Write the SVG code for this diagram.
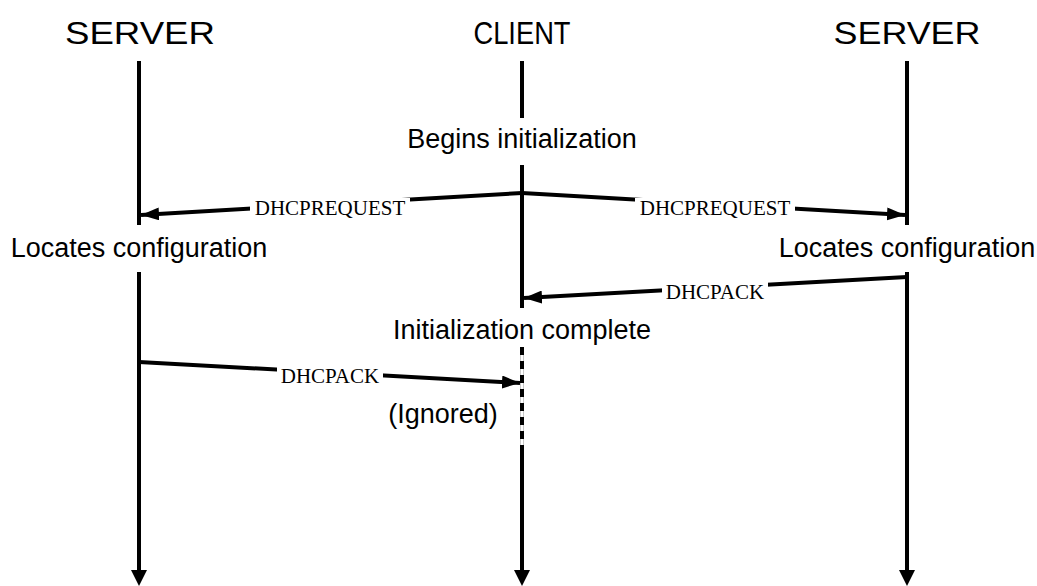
<svg xmlns="http://www.w3.org/2000/svg" width="1037" height="586" viewBox="0 0 1037 586">
<style>
.t{font-family:"Liberation Sans",Arial,sans-serif;fill:#000;text-anchor:middle}
.h{font-size:31px}
.n{font-size:27px}
.m{font-family:"Liberation Serif","Times New Roman",serif;font-size:21px;text-anchor:middle;fill:#000}
.ln{stroke:#000;stroke-width:4;fill:none}
.lb{fill:#fff}
</style>
<defs>
<marker id="ah" markerWidth="18" markerHeight="13" refX="18" refY="6.5" orient="auto" markerUnits="userSpaceOnUse">
<path d="M0,0 L18,6.5 L0,13 Z" fill="#000"/>
</marker>
</defs>
<rect width="1037" height="586" fill="#fff"/>
<g id="server-left">
<text class="t h" x="140" y="44" textLength="150" lengthAdjust="spacingAndGlyphs">SERVER</text>
<line class="ln" x1="139" y1="61" x2="139" y2="225"/>
<text class="t n" x="139" y="257">Locates configuration</text>
<line class="ln" x1="139" y1="272" x2="139" y2="572"/>
<polygon points="131,570 147,570 139,586" fill="#000"/>
</g>
<g id="client">
<text class="t h" x="522" y="44" textLength="97" lengthAdjust="spacingAndGlyphs">CLIENT</text>
<line class="ln" x1="522" y1="61" x2="522" y2="118"/>
<text class="t n" x="522" y="148">Begins initialization</text>
<line class="ln" x1="522" y1="165" x2="522" y2="308"/>
<text class="t n" x="522" y="339">Initialization complete</text>
<line x1="522" y1="347" x2="522" y2="446" stroke="#c8c8c8" stroke-width="4"/>
<line x1="522" y1="347" x2="522" y2="446" stroke="#fff" stroke-width="2"/>
<line x1="522" y1="347" x2="522" y2="446" stroke="#000" stroke-width="4" stroke-dasharray="8 6"/>
<text class="t n" x="443" y="423">(Ignored)</text>
<line class="ln" x1="522" y1="446" x2="522" y2="572"/>
<polygon points="514,570 530,570 522,586" fill="#000"/>
</g>
<g id="server-right">
<text class="t h" x="907" y="44" textLength="147" lengthAdjust="spacingAndGlyphs">SERVER</text>
<line class="ln" x1="907" y1="61" x2="907" y2="225"/>
<text class="t n" x="907" y="257">Locates configuration</text>
<line class="ln" x1="907" y1="272" x2="907" y2="572"/>
<polygon points="899,570 915,570 907,586" fill="#000"/>
</g>
<g id="connectors">
<line class="ln" x1="522" y1="193" x2="141" y2="215" marker-end="url(#ah)"/>
<rect class="lb" x="250" y="198" width="160" height="21"/>
<text class="m" x="330" y="215">DHCPREQUEST</text>
<line class="ln" x1="522" y1="193" x2="905" y2="215" marker-end="url(#ah)"/>
<rect class="lb" x="635" y="198" width="160" height="21"/>
<text class="m" x="715" y="215">DHCPREQUEST</text>
<line class="ln" x1="907" y1="277" x2="524" y2="298" marker-end="url(#ah)"/>
<rect class="lb" x="662" y="282" width="106" height="21"/>
<text class="m" x="715" y="299">DHCPACK</text>
<line class="ln" x1="139" y1="362" x2="520" y2="383" marker-end="url(#ah)"/>
<rect class="lb" x="277" y="366" width="106" height="21"/>
<text class="m" x="330" y="383">DHCPACK</text>
</g>
</svg>
